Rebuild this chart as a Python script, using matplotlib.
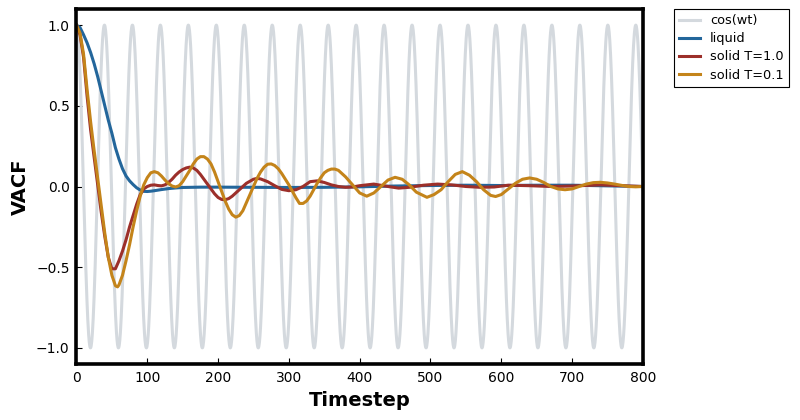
import numpy as np
import matplotlib
matplotlib.use("Agg")
import matplotlib.pyplot as plt

# reference oscillation, period (~20 peaks over 800 steps)
cos_period = 39.5

liquid_t = [0, 5, 10, 15, 20, 25, 30, 35, 40, 45, 50, 55, 60, 65, 70, 75, 80,
            85, 90, 95, 100, 105, 110, 120, 130, 140, 150, 175, 200, 250, 300,
            350, 400, 450, 500, 550, 600, 650, 700, 750, 800]
liquid_vacf = [1.00, 0.985, 0.94, 0.89, 0.83, 0.76, 0.68, 0.59, 0.50, 0.41,
               0.33, 0.24, 0.17, 0.11, 0.065, 0.035, 0.012, -0.008, -0.022,
               -0.03, -0.031, -0.029, -0.026, -0.019, -0.013, -0.009, -0.006,
               -0.004, -0.004, -0.005, -0.006, -0.005, -0.002, 0.003, 0.006,
               0.008, 0.006, 0.008, 0.008, 0.004, 0.0]

solid_hot_t = [0, 5, 10, 15, 20, 25, 30, 35, 40, 45, 50, 55, 60, 65, 70, 75,
               80, 85, 90, 95, 100, 105, 110, 115, 120, 125, 130, 135, 140,
               145, 150, 155, 160, 165, 170, 175, 180, 185, 190, 195, 200,
               205, 210, 215, 220, 225, 230, 240, 250, 255, 260, 270, 280,
               290, 300, 310, 320, 330, 340, 350, 360, 370, 380, 390, 400,
               420, 440, 455, 470, 490, 510, 530, 550, 570, 590, 610, 640,
               670, 700, 740, 770, 800]
solid_hot_vacf = [1.00, 0.94, 0.80, 0.56, 0.35, 0.18, 0.01, -0.16, -0.31,
                  -0.44, -0.51, -0.51, -0.46, -0.40, -0.33, -0.25, -0.18,
                  -0.11, -0.05, -0.015, 0.0, 0.008, 0.01, 0.006, 0.004, 0.01,
                  0.025, 0.045, 0.07, 0.09, 0.105, 0.115, 0.12, 0.115, 0.10,
                  0.075, 0.045, 0.015, -0.015, -0.045, -0.068, -0.08, -0.082,
                  -0.075, -0.06, -0.04, -0.02, 0.02, 0.045, 0.05, 0.047, 0.03,
                  0.005, -0.018, -0.026, -0.02, 0.0, 0.03, 0.035, 0.025, 0.01,
                  0.0, -0.005, -0.003, 0.005, 0.015, 0.0, -0.01, -0.005, 0.008,
                  0.015, 0.01, 0.0, -0.005, -0.003, 0.008, 0.005, 0.0, 0.003,
                  0.01, 0.005, 0.0]

solid_cold_t = [0, 5, 10, 15, 20, 25, 30, 35, 40, 45, 50, 55, 58, 60, 65, 70,
                75, 80, 85, 90, 95, 100, 105, 110, 115, 120, 125, 130, 135,
                140, 145, 150, 155, 160, 165, 170, 175, 180, 185, 190, 195,
                200, 205, 210, 215, 220, 225, 230, 235, 240, 245, 250, 255,
                260, 265, 270, 275, 280, 285, 290, 295, 300, 305, 310, 315,
                320, 325, 330, 335, 340, 345, 350, 355, 360, 365, 370, 380,
                390, 400, 410, 420, 430, 440, 450, 460, 470, 480, 495, 505,
                515, 525, 535, 545, 555, 565, 575, 585, 592, 600, 610, 620,
                630, 640, 650, 660, 670, 680, 690, 700, 710, 720, 730, 740,
                750, 760, 770, 780, 790, 800]
solid_cold_vacf = [1.00, 0.95, 0.82, 0.60, 0.40, 0.22, 0.05, -0.12, -0.29,
                   -0.44, -0.55, -0.615, -0.622, -0.61, -0.55, -0.46, -0.36,
                   -0.25, -0.15, -0.06, 0.01, 0.055, 0.085, 0.092, 0.085,
                   0.065, 0.04, 0.018, 0.003, -0.003, 0.005, 0.03, 0.065,
                   0.10, 0.14, 0.17, 0.185, 0.185, 0.17, 0.14, 0.09, 0.03,
                   -0.03, -0.09, -0.14, -0.175, -0.19, -0.18, -0.15, -0.10,
                   -0.05, 0.0, 0.05, 0.09, 0.12, 0.138, 0.14, 0.13, 0.11,
                   0.08, 0.045, 0.01, -0.03, -0.07, -0.105, -0.105, -0.09,
                   -0.06, -0.02, 0.02, 0.055, 0.085, 0.10, 0.108, 0.108, 0.10,
                   0.06, 0.01, -0.04, -0.06, -0.04, 0.0, 0.04, 0.057, 0.045,
                   0.01, -0.035, -0.067, -0.05, -0.02, 0.03, 0.075, 0.092,
                   0.07, 0.03, -0.02, -0.055, -0.062, -0.05, -0.015, 0.02,
                   0.045, 0.053, 0.045, 0.025, 0.0, -0.015, -0.02, -0.015,
                   0.0, 0.015, 0.024, 0.026, 0.022, 0.015, 0.007, 0.0, -0.002,
                   0.0]

fig = plt.figure(figsize=(8, 4.2), dpi=100)
ax = fig.add_axes([0.0956, 0.1333, 0.708, 0.8453])

t = np.linspace(0, 800, 2001)
ax.plot(t, np.cos(2 * np.pi / cos_period * t), color="#d4d9de", lw=2.2, label="cos(wt)")
ax.plot(liquid_t, liquid_vacf, color="#23669b", lw=2.2, label="liquid")
ax.plot(solid_hot_t, solid_hot_vacf, color="#9c2f2a", lw=2.2, label="solid T=1.0")
ax.plot(solid_cold_t, solid_cold_vacf, color="#c4841a", lw=2.2, label="solid T=0.1")

ax.set_xlim(0, 800)
ax.set_ylim(-1.1, 1.1)
ax.set_xticks(range(0, 801, 100))
ax.set_yticks([-1.0, -0.5, 0.0, 0.5, 1.0])
ax.tick_params(direction="in", length=4, labelsize=10, pad=5)
for s in ax.spines.values():
    s.set_linewidth(2.6)

ax.set_xlabel("Timestep", fontsize=14, fontweight="bold", labelpad=4)
ax.set_ylabel("VACF", fontsize=14, fontweight="bold", labelpad=4)

leg = ax.legend(loc="upper left", bbox_to_anchor=(1.055, 1.0), borderaxespad=0,
                fontsize=9.3, fancybox=False, handlelength=1.6, labelspacing=0.4,
                framealpha=1)
leg.get_frame().set_edgecolor("black")
leg.get_frame().set_linewidth(0.8)

fig.savefig("out.png", dpi=100)
